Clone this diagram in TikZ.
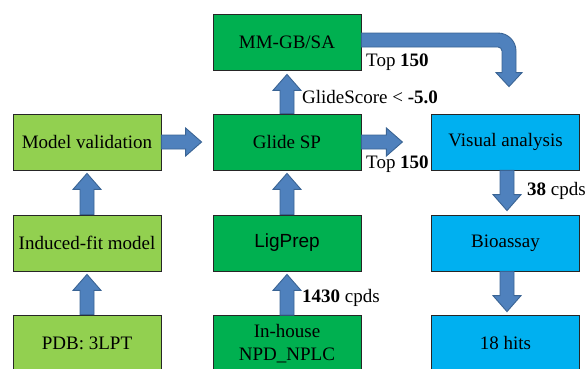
\documentclass[tikz,border=0pt]{standalone}
\usepackage{fontspec}
\setmainfont{Liberation Serif}
\newfontfamily\arialfont{Liberation Sans}
\usetikzlibrary{calc}
\definecolor{lgreen}{HTML}{92D050}
\definecolor{dgreen}{HTML}{00B050}
\definecolor{cyanbox}{HTML}{00B0F0}
\definecolor{arrfill}{HTML}{4F81BD}
\definecolor{arrline}{HTML}{3A6494}
\tikzset{
  box/.style={draw=black!85, line width=0.8pt, minimum width=148pt, minimum height=56pt,
    inner sep=0pt, font=\fontsize{19}{23}\selectfont, align=center},
  lbox/.style={box, fill=lgreen},
  gbox/.style={box, fill=dgreen},
  cbox/.style={box, fill=cyanbox},
  lbl/.style={anchor=west, inner sep=0pt, font=\fontsize{19}{23}\selectfont},
  blockarrow/.style={fill=arrfill, draw=arrline, line width=0.9pt, line join=miter}
}
\newcommand\barrow[2]{%
  \path (#1) coordinate (bS) (#2) coordinate (bT) ($(bT)!16pt!(bS)$) coordinate (bH);
  \filldraw[blockarrow] ($(bS)!7pt!90:(bT)$) -- ($(bH)!7pt!90:(bT)$) -- ($(bH)!14pt!90:(bT)$)
    -- (bT) -- ($(bH)!14pt!-90:(bT)$) -- ($(bH)!7pt!-90:(bT)$) -- ($(bS)!7pt!-90:(bT)$) -- cycle;
}
\begin{document}
\begin{tikzpicture}[x=1pt,y=-1pt]
\useasboundingbox (0,0) rectangle (587,368);
\clip (0,0) rectangle (587,368);
% left column
\node[lbox] (mv)  at (87,142) {Model validation};
\node[lbox] (ifm) at (87,243) {Induced-fit model};
\node[lbox] (pdb) at (87,343) {PDB: 3LPT};
% middle column
\node[gbox] (mm)  at (287,42)  {MM-GB/SA};
\node[gbox] (gsp) at (287,142) {Glide SP};
\node[gbox] (lp)  at (287,243) {\arialfont LigPrep};
\node[gbox] (ih)  at (287,343.5) {In-house\\NPD\_NPLC};
% right column
\node[cbox] (va)  at (505.5,142) {Visual analysis};
\node[cbox] (bio) at (505.5,243) {Bioassay};
\node[cbox] (hit) at (505.5,343) {18 hits};
% straight block arrows
\barrow{pdb.north}{$(ifm.south)+(0,3)$}
\barrow{ifm.north}{$(mv.south)+(0,3)$}
\barrow{mv.east}{$(gsp.west)+(-11,0)$}
\barrow{ih.north}{$(lp.south)+(0,3)$}
\barrow{lp.north}{$(gsp.south)+(0,3)$}
\barrow{gsp.north}{$(mm.south)+(0,4)$}
\barrow{gsp.east}{$(gsp.east)+(41,0)$}
\barrow{$(va.south)+(1.5,0)$}{$(bio.north)+(1.5,-4)$}
\barrow{$(bio.south)+(1.5,0)$}{$(hit.north)+(1.5,-3)$}
% curved block arrow MM-GB/SA -> Visual analysis
\coordinate (cs) at ($(mm.east)+(0,-2)$);
\coordinate (ct) at ($(va.north)+(3.5,-27)$);
\filldraw[blockarrow] ($(cs)+(0,-7)$) -- ($(ct|-cs)+(-11,-7)$)
  arc[start angle=90, end angle=0, radius=18pt] -- ($(ct)+(7,-14)$) -- ($(ct)+(13,-14)$)
  -- (ct) -- ($(ct)+(-13,-14)$) -- ($(ct)+(-7,-14)$) -- ($(ct|-cs)+(-7,11)$)
  arc[start angle=0, end angle=90, radius=4pt] -- ($(cs)+(0,7)$) -- cycle;
% labels
\node[lbl] (t1) at (366,62) {Top \textbf{150}};
\node[lbl] (gs) at (302,97) {GlideScore < \textbf{-5.0}};
\node[lbl] (t2) at (366,164) {Top \textbf{150}};
\node[lbl] (c38) at (527,191) {\textbf{38} cpds};
\node[lbl] (c1430) at (302,298) {\textbf{1430} cpds};
\end{tikzpicture}
\end{document}
